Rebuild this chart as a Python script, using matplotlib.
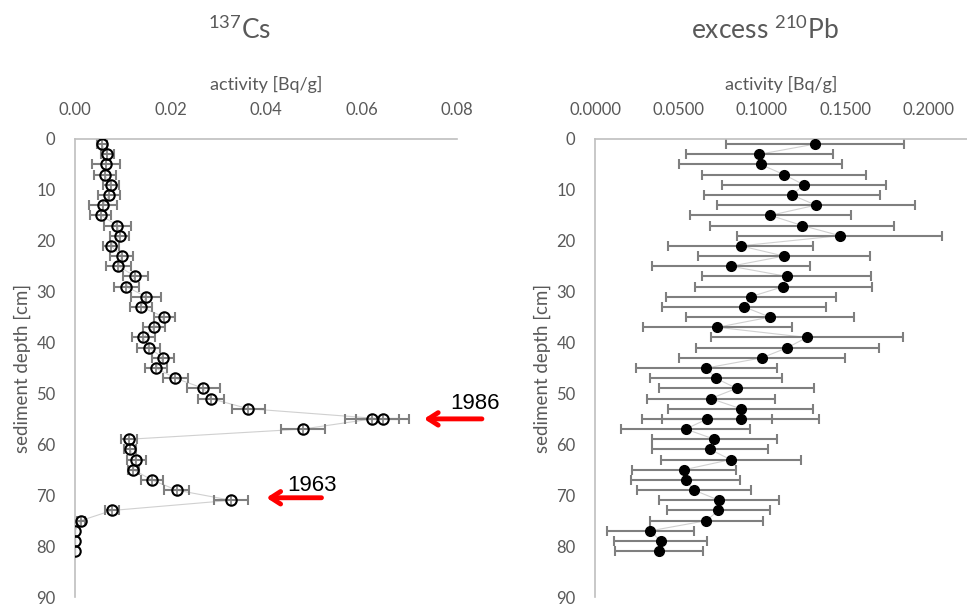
import matplotlib
matplotlib.use("Agg")
import matplotlib.pyplot as plt

plt.rcParams['font.family'] = ['Lato', 'DejaVu Sans']
plt.rcParams['mathtext.default'] = 'regular'

# 137Cs profile
cs_depth = [1, 3, 5, 7, 9, 11, 13, 15, 17, 19, 21, 23, 25, 27, 29, 31, 33, 35, 37, 39,
            41, 43, 45, 47, 49, 51, 53, 55, 55, 57, 59, 61, 63, 65, 67, 69, 71, 73, 75,
            77, 79, 81]
cs_act = [0.0056, 0.0068, 0.0065, 0.0062, 0.0075, 0.0071, 0.0059, 0.0054, 0.0089, 0.0094,
          0.0075, 0.0098, 0.0091, 0.0126, 0.0107, 0.0149, 0.0138, 0.0187, 0.0166, 0.0143,
          0.0154, 0.0185, 0.0169, 0.0210, 0.0269, 0.0284, 0.0363, 0.0644, 0.0622, 0.0477,
          0.0113, 0.0115, 0.0128, 0.0122, 0.0161, 0.0213, 0.0327, 0.0077, 0.0012,
          0.0, 0.0, 0.0]
cs_err = [0.0010, 0.0014, 0.0029, 0.0023, 0.0017, 0.0023, 0.0029, 0.0022, 0.0028, 0.0020,
          0.0017, 0.0024, 0.0026, 0.0026, 0.0026, 0.0031, 0.0023, 0.0022, 0.0023, 0.0024,
          0.0024, 0.0023, 0.0023, 0.0026, 0.0034, 0.0027, 0.0034, 0.0056, 0.0056, 0.0046,
          0.0017, 0.0012, 0.0020, 0.0012, 0.0023, 0.0026, 0.0036, 0.0015, 0.0008,
          0.0, 0.0, 0.0]

# excess 210Pb profile
pb_depth = cs_depth
pb_act = [0.1317, 0.0984, 0.0992, 0.1132, 0.1251, 0.1180, 0.1323, 0.1050, 0.1240, 0.1467,
          0.0872, 0.1132, 0.0814, 0.1148, 0.1128, 0.0932, 0.0894, 0.1048, 0.0733, 0.1269,
          0.1152, 0.1000, 0.0667, 0.0723, 0.0848, 0.0693, 0.0872, 0.0872, 0.0673, 0.0543,
          0.0715, 0.0689, 0.0812, 0.0533, 0.0543, 0.0593, 0.0743, 0.0739, 0.0667,
          0.0331, 0.0393, 0.0383]
pb_err = [0.0533, 0.0441, 0.0488, 0.0492, 0.0492, 0.0529, 0.0594, 0.0482, 0.0551, 0.0614,
          0.0432, 0.0514, 0.0474, 0.0506, 0.0531, 0.0509, 0.0491, 0.0502, 0.0445, 0.0574,
          0.0546, 0.0497, 0.0421, 0.0396, 0.0463, 0.0384, 0.0436, 0.0468, 0.0390, 0.0386,
          0.0376, 0.0350, 0.0419, 0.0309, 0.0325, 0.0339, 0.0361, 0.0309, 0.0338,
          0.0259, 0.0277, 0.0262]

cs_ticks = [0.00, 0.02, 0.04, 0.06, 0.08]
pb_ticks = [0.00, 0.05, 0.10, 0.15, 0.20]
depth_ticks = list(range(0, 91, 10))

W, H = 967, 606
fig = plt.figure(figsize=(W / 100, H / 100), dpi=100)

ax1 = fig.add_axes([75 / W, 9 / H, 382 / W, 458 / H])
ax2 = fig.add_axes([595 / W, 9 / H, 372 / W, 458 / H])

grey = '#7f7f7f'
txt = '#595959'

for ax in (ax1, ax2):
    ax.set_ylim(90, 0)
    ax.set_yticks(depth_ticks)
    ax.xaxis.tick_top()
    ax.xaxis.set_label_position('top')
    ax.tick_params(length=0, labelsize=12, labelcolor=txt)
    ax.tick_params(axis='x', pad=15)
    ax.tick_params(axis='y', pad=14)
    for s in ('right', 'bottom'):
        ax.spines[s].set_visible(False)
    for s in ('top', 'left'):
        ax.spines[s].set_color('#bfbfbf')
        ax.spines[s].set_linewidth(1.2)
    ax.set_xlabel('activity [Bq/g]', fontsize=13, color=txt, labelpad=9)
    ax.set_ylabel('sediment depth [cm]', fontsize=13.5, color=txt, labelpad=4)

# Cs panel
ax1.set_xlim(0, 0.08)
ax1.set_xticks(cs_ticks)
ax1.set_xticklabels(['%.2f' % v for v in cs_ticks])
ax1.plot(cs_act, cs_depth, color='#d0d0d0', lw=0.8, zorder=1)
ax1.errorbar(cs_act, cs_depth, xerr=cs_err, fmt='none', ecolor=grey, elinewidth=1.5,
             capsize=3.5, capthick=1.5, zorder=2)
cs_x_err = [a for a, e in zip(cs_act, cs_err) if e > 0]
cs_y_err = [d for d, e in zip(cs_depth, cs_err) if e > 0]
ax1.plot(cs_x_err, cs_y_err, linestyle='none', marker='|', markersize=7,
         markeredgecolor=grey, markeredgewidth=1.2, zorder=3)
ax1.plot(cs_act, cs_depth, linestyle='none', marker='o', markersize=7.5,
         markerfacecolor='none', markeredgecolor='black', markeredgewidth=1.5, zorder=4)

ax1.annotate('', xy=(0.0725, 55), xytext=(0.0858, 55),
             arrowprops=dict(arrowstyle='->,head_length=0.7,head_width=0.45',
                             color='#ff0000', lw=3.5), annotation_clip=False)
ax1.text(0.0785, 52, '1986', fontsize=16, family='Liberation Sans', ha='left', va='center')
ax1.annotate('', xy=(0.0395, 70.5), xytext=(0.0522, 70.5),
             arrowprops=dict(arrowstyle='->,head_length=0.7,head_width=0.45',
                             color='#ff0000', lw=3.5), annotation_clip=False)
ax1.text(0.0445, 68, '1963', fontsize=16, family='Liberation Sans', ha='left', va='center')

# Pb panel
ax2.set_xlim(0, 0.2228)
ax2.set_xticks(pb_ticks)
ax2.set_xticklabels(['%.4f' % v for v in pb_ticks])
ax2.plot(pb_act, pb_depth, color='#d0d0d0', lw=0.8, zorder=1)
ax2.errorbar(pb_act, pb_depth, xerr=pb_err, fmt='none', ecolor=grey, elinewidth=1.5,
             capsize=3.5, capthick=1.5, zorder=2)
ax2.plot(pb_act, pb_depth, linestyle='none', marker='o', markersize=7,
         markerfacecolor='black', markeredgecolor='black', zorder=4)

fig.text(240 / W, 1 - 30 / H, '$^{137}$Cs', fontsize=19, color=txt, ha='center', va='center')
fig.text(765 / W, 1 - 30 / H, 'excess $^{210}$Pb', fontsize=19, color=txt, ha='center', va='center')

fig.savefig('out.png', dpi=100)
